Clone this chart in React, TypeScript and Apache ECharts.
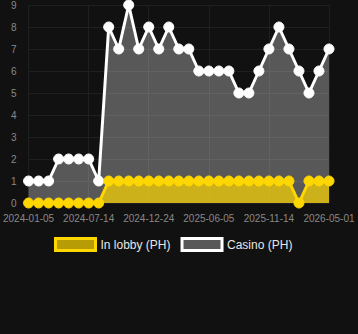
import React, { useEffect, useRef } from "react";
import * as echarts from "echarts";

const dates = [
  "2024-01-05", "2024-02-05", "2024-03-06", "2024-04-08", "2024-05-10", "2024-06-12",
  "2024-07-14", "2024-08-10", "2024-09-05", "2024-10-02", "2024-10-29", "2024-11-26",
  "2024-12-24", "2025-01-20", "2025-02-17", "2025-03-16", "2025-04-12", "2025-05-09",
  "2025-06-05", "2025-07-02", "2025-07-29", "2025-08-25", "2025-09-21", "2025-10-18",
  "2025-11-14", "2025-12-11", "2026-01-08", "2026-02-04", "2026-03-06", "2026-04-03",
  "2026-05-01",
];

const inLobby = [0, 0, 0, 0, 0, 0, 0, 0, 1, 1, 1, 1, 1, 1, 1, 1, 1, 1, 1, 1, 1, 1, 1, 1, 1, 1, 1, 0, 1, 1, 1];
const casino = [1, 1, 1, 2, 2, 2, 2, 1, 8, 7, 9, 7, 8, 7, 8, 7, 7, 6, 6, 6, 6, 5, 5, 6, 7, 8, 7, 6, 5, 6, 7];

const seriesNames = ["In lobby (PH)", "Casino (PH)"];

const lobbyLine = "#FFD700";
const lobbyArea = "rgba(255,215,0,0.7)";
const casinoLine = "#ffffff";
const casinoArea = "rgba(255,255,255,0.3)";

export default function App() {
  const ref = useRef<HTMLDivElement>(null);
  useEffect(() => {
    document.body.style.margin = "0";
    document.body.style.background = "#111111";
    const chart = echarts.init(ref.current!, undefined, { renderer: "svg" });
    chart.setOption({
      animation: false,
      backgroundColor: "#111111",
      grid: { left: 28, right: 29, top: 4, bottom: 131 },
      legend: {
        data: [
          { name: seriesNames[0], icon: "rect", itemStyle: { color: lobbyArea, borderColor: lobbyLine, borderWidth: 3 } },
          { name: seriesNames[1], icon: "rect", itemStyle: { color: casinoArea, borderColor: casinoLine, borderWidth: 3 } },
        ],
        left: 49,
        top: 232,
        itemWidth: 40,
        itemHeight: 12,
        itemGap: 10,
        textStyle: { color: "#e6e6e6", fontSize: 12, fontFamily: "Liberation Sans, Arial, sans-serif" },
      },
      xAxis: {
        type: "category",
        data: dates,
        boundaryGap: false,
        axisLine: { show: false },
        axisTick: { show: false },
        axisLabel: {
          interval: 5,
          color: "#888888",
          fontSize: 10,
          margin: 10,
          fontFamily: "Liberation Sans, Arial, sans-serif",
        },
        splitLine: { show: true, interval: 5, lineStyle: { color: "#1f1f1f", width: 1 } },
      },
      yAxis: {
        type: "value",
        min: 0,
        max: 9,
        interval: 1,
        axisLine: { show: false },
        axisTick: { show: false },
        axisLabel: {
          color: "#888888",
          fontSize: 10,
          margin: 12,
          fontFamily: "Liberation Sans, Arial, sans-serif",
        },
        splitLine: { lineStyle: { color: "#1f1f1f", width: 1 } },
      },
      series: [
        {
          name: seriesNames[1],
          type: "line",
          data: casino,
          symbol: "circle",
          symbolSize: 10,
          showAllSymbol: true,
          z: 2,
          lineStyle: { color: casinoLine, width: 3 },
          itemStyle: { color: casinoLine, borderColor: casinoLine, borderWidth: 1 },
          areaStyle: { color: casinoArea, opacity: 1 },
        },
        {
          name: seriesNames[0],
          type: "line",
          data: inLobby,
          symbol: "circle",
          symbolSize: 10,
          showAllSymbol: true,
          z: 3,
          lineStyle: { color: lobbyLine, width: 3 },
          itemStyle: { color: lobbyLine, borderColor: lobbyLine, borderWidth: 1 },
          areaStyle: { color: lobbyArea, opacity: 1 },
        },
      ],
    });
    return () => chart.dispose();
  }, []);
  return <div ref={ref} style={{ width: 358, height: 334 }} />;
}
